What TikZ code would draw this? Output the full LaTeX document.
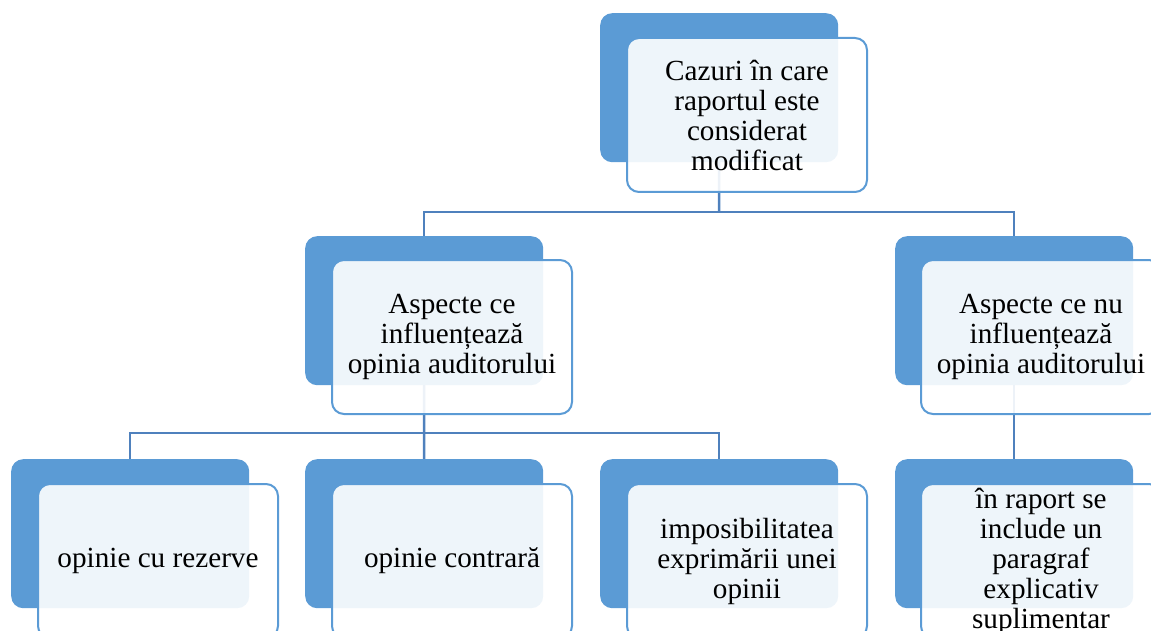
\documentclass[tikz,border=0pt]{standalone}
\usepackage{fontspec}
\setmainfont{Liberation Serif}
\usetikzlibrary{backgrounds}
\definecolor{boxblue}{HTML}{5B9BD5}
\definecolor{linkblue}{HTML}{4F81BD}
\tikzset{
  bluebox/.style={fill=boxblue, draw=none, rounded corners=12pt, minimum width=238pt, minimum height=149pt, inner sep=0pt, anchor=north west},
  whitebox/.style={fill=white, fill opacity=0.9, text opacity=1, draw=boxblue, line width=2pt, rounded corners=12pt, minimum width=240pt, minimum height=154pt, inner sep=0pt, anchor=north west, align=center, font=\fontsize{29.2}{30}\selectfont},
  link/.style={draw=linkblue, line width=2.5pt}
}
\begin{document}
\begin{tikzpicture}[x=1pt,y=-1pt]
\useasboundingbox (0,0) rectangle (1151,631);
\clip (0,0) rectangle (1151,631);
% top
\node[bluebox] (topb) at (600,13) {};
\node[whitebox] (topw) at (626,37) {Cazuri în care\\raportul este\\considerat\\modificat};
% level 2
\node[bluebox] (infb) at (305,236) {};
\node[whitebox] (infw) at (331,259) {Aspecte ce\\influențează\\opinia auditorului};
\node[bluebox] (ninfb) at (895,236) {};
\node[whitebox] (ninfw) at (920,259) {Aspecte ce nu\\influențează\\opinia auditorului};
% level 3
\node[bluebox] (rezb) at (11,459) {};
\node[whitebox] (rezw) at (37,483) {opinie cu rezerve};
\node[bluebox] (contb) at (305,459) {};
\node[whitebox] (contw) at (331,483) {opinie contrară};
\node[bluebox] (impb) at (600,459) {};
\node[whitebox] (impw) at (626,483) {imposibilitatea\\exprimării unei\\opinii};
\node[bluebox] (parb) at (895,459) {};
\node[whitebox] (parw) at (920,483) {în raport se\\include un\\paragraf\\explicativ\\suplimentar};
\begin{pgfonlayer}{background}
\coordinate (j1) at (719,212);
\coordinate (j2) at (424,433);
\draw[link] (topb.center) -- (j1);
\draw[link] (infb.north) |- (j1) -| (ninfb.north);
\draw[link] (infb.center) -- (j2);
\draw[link] (rezb.north) |- (j2) -| (impb.north);
\draw[link] (j2) -- (contb.north);
\draw[link] (ninfb.center) -- (parb.north);
\end{pgfonlayer}
\end{tikzpicture}
\end{document}
